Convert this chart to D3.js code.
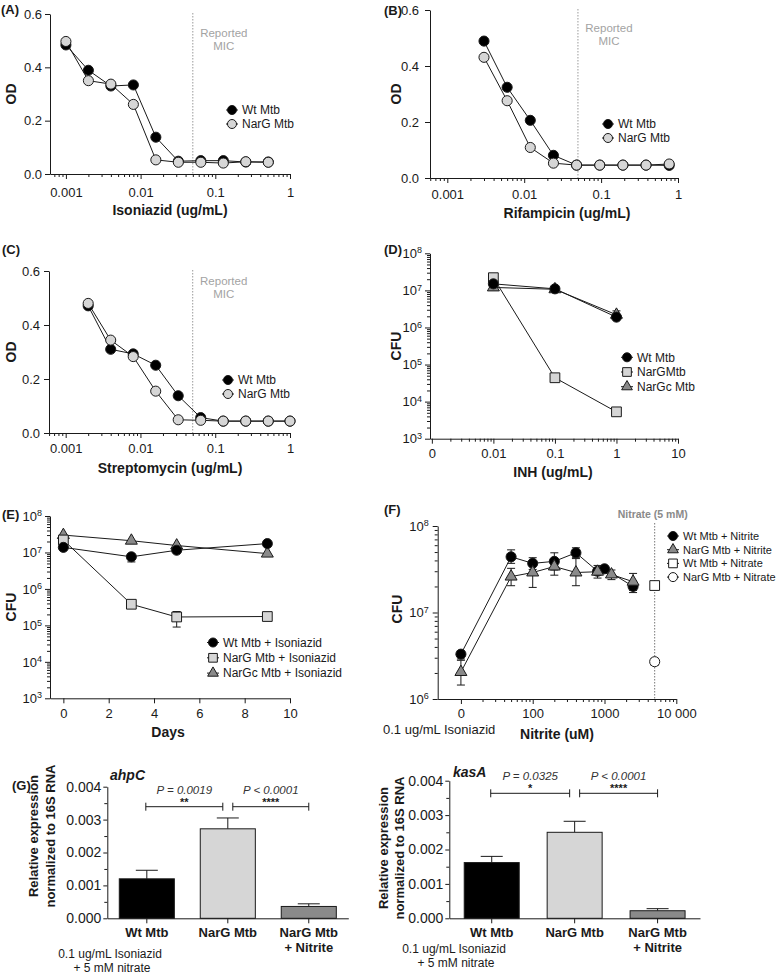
<!DOCTYPE html>
<html><head><meta charset="utf-8">
<script src="https://cdn.jsdelivr.net/npm/d3@7"></script>
<style>body{margin:0;background:#fff}svg{display:block}</style>
</head><body>
<script>
// ================= DATA =================
// (A) Isoniazid
const inhConcA = [0.001,0.002,0.004,0.008,0.016,0.032,0.064,0.128,0.256,0.512];
const odWtA    = [0.484,0.389,0.330,0.334,0.138,0.048,0.050,0.050,0.045,0.045];
const odNargA  = [0.497,0.350,0.337,0.261,0.053,0.044,0.044,0.041,0.046,0.044];
// (B) Rifampicin
const rifConcB = [0.003,0.006,0.012,0.024,0.048,0.096,0.192,0.384,0.768];
const odWtB    = [0.489,0.324,0.206,0.081,0.046,0.046,0.046,0.046,0.045];
const odNargB  = [0.431,0.276,0.109,0.053,0.046,0.046,0.046,0.046,0.050];
// (C) Streptomycin
const strConcC = [0.002,0.004,0.008,0.016,0.032,0.064,0.128,0.256,0.512,1.0];
const odWtC    = [0.471,0.310,0.293,0.251,0.138,0.057,0.044,0.044,0.044,0.044];
const odNargC  = [0.480,0.344,0.283,0.155,0.049,0.047,0.044,0.044,0.044,0.044];
const reportedMIC = 0.05;
const odTicks = [0, 0.2, 0.4, 0.6];
const odTickLabels = ["0.0","0.2","0.4","0.6"];
const micTicks = [0.001, 0.01, 0.1, 1];
const micTickLabels = ["0.001","0.01","0.1","1"];
const odLegend = ["Wt Mtb","NarG Mtb"];

// (D) INH dose, CFU
const inhD       = [0.01, 0.1, 1];
const cfuWtD     = [1.5e7, 1.1e7, 1.9e6];
const cfuNargD   = [2.2e7, 4.4e4, 5.3e3];
const cfuNargDHi = [2.8e7, 4.4e4, 5.3e3];
const cfuNargcD  = [1.2e7, 1.07e7, 2.2e6];
const cfuNargcDHi= [1.2e7, 1.07e7, 2.8e6];
const inhTicksD  = [0.001, 0.01, 0.1, 1, 10];
const inhTickLabelsD = ["0","0.01","0.1","1","10"];
const legendD = ["Wt Mtb","NarGMtb","NarGc Mtb"];

// (E) time course
const daysE      = [0, 3, 5, 9];
const cfuWtE     = [1.38e7, 7.6e6, 1.15e7, 1.75e7];
const cfuWtELo   = [1.38e7, 5.5e6, 1.15e7, 1.75e7];
const cfuWtEHi   = [1.38e7, 9.0e6, 1.15e7, 1.75e7];
const cfuNargE   = [2.2e7, 3.8e5, 1.7e5, 1.75e5];
const cfuNargELo = [2.2e7, 3.8e5, 9.0e4, 1.75e5];
const cfuNargEHi = [2.2e7, 3.8e5, 2.4e5, 1.75e5];
const cfuNargcE  = [3.0e7, 2.1e7, 1.55e7, 9.3e6];
const dayTicksE  = [0, 2, 4, 6, 8, 10];
const legendE = ["Wt Mtb + Isoniazid","NarG Mtb + Isoniazid","NarGc Mtb + Isoniazid"];
const cfuExp = ["3","4","5","6","7","8"];

// (F) nitrite rescue
const nitriteWtF   = [0, 50, 100, 200, 400, 800, 1000, 2500];
const cfuWtF       = [3.3e6, 4.4e7, 3.7e7, 3.9e7, 4.9e7, 3.0e7, 3.2e7, 2.0e7];
const cfuWtFLo     = [2.9e6, 3.7e7, 3.15e7, 3.1e7, 4.3e7, 2.7e7, 3.0e7, 1.7e7];
const cfuWtFHi     = [3.6e6, 5.3e7, 4.3e7, 4.9e7, 5.6e7, 3.3e7, 3.4e7, 2.3e7];
const nitriteNargF = [0, 50, 100, 200, 400, 800, 1250, 2500];
const cfuNargF     = [2.05e6, 2.6e7, 2.9e7, 3.4e7, 2.9e7, 2.96e7, 2.75e7, 2.27e7];
const cfuNargFLo   = [1.45e6, 2.04e7, 1.95e7, 2.7e7, 2.04e7, 2.5e7, 2.4e7, 1.8e7];
const cfuNargFHi   = [2.8e6, 3.24e7, 3.5e7, 4.1e7, 4.2e7, 3.5e7, 3.1e7, 2.83e7];
const nitrateConc  = 5000;            // 5 mM nitrate, uM
const cfuWtNitrate = 2.05e7;
const cfuNargNitrate = 2.7e6, cfuNargNitrateLo = 2.45e6, cfuNargNitrateHi = 2.95e6;
const nitriteTicksF = [10, 100, 1000, 10000];
const nitriteTickLabelsF = ["0","100","1000","10 000"];
const legendF = ["Wt Mtb + Nitrite","NarG Mtb + Nitrite","Wt Mtb + Nitrate","NarG Mtb + Nitrate"];
const cfuExpF = ["6","7","8"];

// (G) qPCR
const groupsG = ["Wt Mtb","NarG Mtb","NarG Mtb|+ Nitrite"];
const ahpCMean = [0.00120, 0.00272, 0.00036];
const ahpCSem  = [0.00026, 0.00033, 0.00008];
const kasAMean = [0.00162, 0.00250, 0.00022];
const kasASem  = [0.00018, 0.00032, 0.00006];
const exprTicks = [0, 0.001, 0.002, 0.003, 0.004];
const exprMinor = [0.0005, 0.0015, 0.0025, 0.0035];
const ahpCStats = [{a:0,b:1,p:"P = 0.0019",s:"**"},{a:1,b:2,p:"P < 0.0001",s:"****"}];
const kasAStats = [{a:0,b:1,p:"P = 0.0325",s:"*"},{a:1,b:2,p:"P < 0.0001",s:"****"}];

// ================= DRAWING =================
const FONT = '"Liberation Sans", Arial, Helvetica, sans-serif';
const INK = "#1a1a1a";
const svg = d3.select("body").append("svg").attr("width",779).attr("height",976)
  .style("font-family", FONT);

function logMinor(lo, hi){
  const out=[];
  for(let d=Math.floor(Math.log10(lo))-1; d<=Math.ceil(Math.log10(hi)); d++)
    for(let m=2;m<=9;m++){const v=m*Math.pow(10,d); if(v>=lo*0.999 && v<=hi*1.001) out.push(v);}
  return out;
}

function addAxis(type, scale, pos, o){
  const mk = type==="bottom"? d3.axisBottom : d3.axisLeft;
  const g = svg.append("g").attr("transform", type==="bottom" ? `translate(0,${pos})` : `translate(${pos},0)`);
  if(o.minor){
    g.append("g").call(mk(scale).tickValues(o.minor).tickSize(o.minorLen||3).tickSizeOuter(0).tickFormat(""))
     .call(s=>{s.select(".domain").remove(); s.selectAll("line").attr("stroke",INK);});
  }
  const ax = mk(scale).tickValues(o.major).tickSize(o.tickLen||5).tickSizeOuter(0)
    .tickPadding(o.pad==null?3:o.pad).tickFormat((d,i)=> o.labels? o.labels[i] : d);
  const gm = g.append("g").call(ax);
  gm.selectAll("line").attr("stroke",INK);
  gm.select(".domain").attr("stroke",INK);
  gm.selectAll("text").attr("font-size",o.fs||13).attr("fill",INK).attr("font-family",FONT);
  if(o.sup){
    gm.selectAll("text").each(function(d,i){
      const t=d3.select(this); t.text("");
      t.append("tspan").text("10");
      t.append("tspan").attr("dy","-0.5em").attr("font-size",9).text(o.sup[i]);
    });
  }
  return g;
}

function txt(x,y,s,o={}){
  const t = svg.append("text").attr("x",x).attr("y",y).text(s)
    .attr("font-size",o.fs||13).attr("fill",o.fill||INK)
    .attr("text-anchor",o.anchor||"start");
  if(o.bold) t.attr("font-weight","bold");
  if(o.italic) t.attr("font-style","italic");
  return t;
}
function vtxt(cx,cy,s,o={}){
  svg.append("text").attr("transform",`translate(${cx},${cy}) rotate(-90)`).attr("dy","0.35em")
    .attr("text-anchor","middle").attr("font-size",o.fs||14).attr("font-weight","bold").attr("fill",INK).text(s);
}

const SYM = {circle:d3.symbolCircle, square:d3.symbolSquare, triangle:d3.symbolTriangle};
const SIZE = {circle:80, square:95, triangle:62};
function marker(x,y,shape,fill,sc=1){
  svg.append("path").attr("d", d3.symbol(SYM[shape], SIZE[shape]*sc)())
    .attr("transform",`translate(${x},${y})`).attr("fill",fill).attr("stroke",INK).attr("stroke-width",1);
}
function series(xs, ys, x, y){
  svg.append("path").datum(xs.map((v,i)=>[x(v),y(ys[i])]))
    .attr("d", d3.line()).attr("fill","none").attr("stroke",INK).attr("stroke-width",1);
}
function errbar(px, y1, y2, w=8){
  const g=svg.append("g").attr("stroke",INK).attr("stroke-width",1);
  g.append("line").attr("x1",px).attr("x2",px).attr("y1",y1).attr("y2",y2);
  g.append("line").attr("x1",px-w/2).attr("x2",px+w/2).attr("y1",y1).attr("y2",y1);
  g.append("line").attr("x1",px-w/2).attr("x2",px+w/2).attr("y1",y2).attr("y2",y2);
}
function legend(items, mx, y0, dy, fs){
  items.forEach((it,i)=>{
    const yy=y0+i*dy;
    svg.append("line").attr("x1",mx-6).attr("x2",mx+6).attr("y1",yy).attr("y2",yy).attr("stroke",INK);
    marker(mx,yy,it.shape,it.fill,0.8);
    txt(mx+10,yy+fs*0.36,it.label,{fs});
  });
}

const BLACK="#000", LIGHT="#d6d6d6", MID="#8a8a8a", WHITE="#fff";

// ---------- OD panels (A, B, C) ----------
function odPanel(o){
  const x = d3.scaleLog().domain(o.xDomain).range(o.xRange);
  const y = d3.scaleLinear().domain([0,0.6]).range(o.yRange);
  const mx = x(reportedMIC);
  svg.append("line").attr("x1",mx).attr("x2",mx).attr("y1",o.yRange[1]-1).attr("y2",o.yRange[0])
    .attr("stroke","#9a9a9a").attr("stroke-dasharray","1.5,1.5");
  txt(mx+31,o.yRange[1]+o.micDy,"Reported",{fs:11.5,fill:"#a3a3a3",anchor:"middle"});
  txt(mx+31,o.yRange[1]+o.micDy+13,"MIC",{fs:11.5,fill:"#a3a3a3",anchor:"middle"});
  addAxis("bottom", x, o.yRange[0], {major:micTicks, labels:micTickLabels, minor:logMinor(o.xDomain[0],o.xDomain[1]), pad:o.xpad});
  addAxis("left", y, o.xRange[0], {major:odTicks, labels:odTickLabels, pad:o.ypad});
  series(o.xs, o.wt, x, y);
  series(o.xs, o.narg, x, y);
  o.xs.forEach((v,i)=>marker(x(v),y(o.wt[i]),"circle",BLACK));
  o.xs.forEach((v,i)=>marker(x(v),y(o.narg[i]),"circle",LIGHT));
  legend([{shape:"circle",fill:BLACK,label:odLegend[0]},{shape:"circle",fill:LIGHT,label:odLegend[1]}], o.legX, o.legY, 14, 12);
  txt(o.titleX, o.titleY, o.title, {fs:14,bold:true,anchor:"middle"});
  vtxt(o.odX, (o.yRange[0]+o.yRange[1])/2, "OD");
  txt(o.tagX, o.tagY, o.tag, {fs:13,bold:true});
}
odPanel({xDomain:[Math.pow(10,-3.213),1], xRange:[50,290], yRange:[174,14], xs:inhConcA, wt:odWtA, narg:odNargA,
  micDy:23, xpad:9, ypad:3, legX:232, legY:110, title:"Isoniazid (ug/mL)", titleX:170, titleY:215, odX:11, tag:"(A)", tagX:1, tagY:14});
odPanel({xDomain:[Math.pow(10,-3.225),1], xRange:[430,678], yRange:[178,10], xs:rifConcB, wt:odWtB, narg:odNargB,
  micDy:22, xpad:7, ypad:6, legX:608, legY:124, title:"Rifampicin (ug/mL)", titleX:567, titleY:218, odX:396, tag:"(B)", tagX:384, tagY:15});
odPanel({xDomain:[Math.pow(10,-3.223),1], xRange:[49,290], yRange:[433,271], xs:strConcC, wt:odWtC, narg:odNargC,
  micDy:14, xpad:6, ypad:4, legX:228, legY:380, title:"Streptomycin (ug/mL)", titleX:170, titleY:473, odX:11, tag:"(C)", tagX:2, tagY:254});

// ---------- (D) ----------
{
  const x = d3.scaleLog().domain([Math.pow(10,-3.03),10]).range([430,678]);
  const y = d3.scaleLog().domain([1e3,1e8]).range([438.7,253.3]);
  addAxis("bottom", x, 438.7, {major:inhTicksD, labels:inhTickLabelsD, minor:logMinor(0.001,10), pad:5});
  addAxis("left", y, 430, {major:[1e3,1e4,1e5,1e6,1e7,1e8], labels:cfuExp, sup:cfuExp, minor:logMinor(1e3,1e8), pad:3});
  series(inhD, cfuNargD, x, y); series(inhD, cfuNargcD, x, y); series(inhD, cfuWtD, x, y);
  inhD.forEach((v,i)=>{ if(cfuNargDHi[i]>cfuNargD[i]) errbar(x(v), y(cfuNargDHi[i]), y(cfuNargD[i])); });
  inhD.forEach((v,i)=>{ if(cfuNargcDHi[i]>cfuNargcD[i]) errbar(x(v), y(cfuNargcDHi[i]), y(cfuNargcD[i])); });
  inhD.forEach((v,i)=>marker(x(v),y(cfuNargD[i]),"square",LIGHT));
  inhD.forEach((v,i)=>marker(x(v),y(cfuNargcD[i]),"triangle",MID));
  inhD.forEach((v,i)=>marker(x(v),y(cfuWtD[i]),"circle",BLACK));
  legend([{shape:"circle",fill:BLACK,label:legendD[0]},{shape:"square",fill:LIGHT,label:legendD[1]},{shape:"triangle",fill:MID,label:legendD[2]}], 627, 357.3, 14.7, 12);
  txt(553, 477, "INH (ug/mL)", {fs:14,bold:true,anchor:"middle"});
  vtxt(396, 346, "CFU");
  txt(384, 254, "(D)", {fs:13,bold:true});
}

// ---------- (E) ----------
{
  const x = d3.scaleLinear().domain([-0.59,10]).range([50,290]);
  const y = d3.scaleLog().domain([1e3,1e8]).range([698.3,516]);
  addAxis("bottom", x, 698.3, {major:dayTicksE, pad:5});
  addAxis("left", y, 50, {major:[1e3,1e4,1e5,1e6,1e7,1e8], labels:cfuExp, sup:cfuExp, minor:logMinor(1e3,1e8), pad:3});
  series(daysE, cfuNargcE, x, y); series(daysE, cfuNargE, x, y); series(daysE, cfuWtE, x, y);
  daysE.forEach((v,i)=>{ if(cfuWtEHi[i]>cfuWtELo[i]) errbar(x(v), y(cfuWtEHi[i]), y(cfuWtELo[i])); });
  daysE.forEach((v,i)=>{ if(cfuNargEHi[i]>cfuNargELo[i]) errbar(x(v), y(cfuNargEHi[i]), y(cfuNargELo[i])); });
  daysE.forEach((v,i)=>marker(x(v),y(cfuNargcE[i]),"triangle",MID));
  daysE.forEach((v,i)=>marker(x(v),y(cfuNargE[i]),"square",LIGHT));
  daysE.forEach((v,i)=>marker(x(v),y(cfuWtE[i]),"circle",BLACK));
  legend([{shape:"circle",fill:BLACK,label:legendE[0]},{shape:"square",fill:LIGHT,label:legendE[1]},{shape:"triangle",fill:MID,label:legendE[2]}], 213, 642.5, 15.3, 12);
  txt(168, 737, "Days", {fs:14,bold:true,anchor:"middle"});
  vtxt(11, 607, "CFU");
  txt(2, 519, "(E)", {fs:13,bold:true});
}

// ---------- (F) ----------
{
  const x = d3.scaleLog().domain([4.75,10000]).range([437.7,676.3]);
  const px = v => x(v===0 ? nitriteTicksF[0] : v);
  const y = d3.scaleLog().domain([1e6,1e8]).range([699,526]);
  const nx = x(nitrateConc);
  svg.append("line").attr("x1",nx).attr("x2",nx).attr("y1",523).attr("y2",699)
    .attr("stroke","#777").attr("stroke-dasharray","1.5,1.5");
  txt(nx-2, 518, "Nitrate (5 mM)", {fs:10.5,bold:true,fill:"#8a8a8a",anchor:"middle"});
  addAxis("bottom", x, 699, {major:nitriteTicksF, labels:nitriteTickLabelsF, minor:logMinor(10,10000), pad:5});
  addAxis("left", y, 437.7, {major:[1e6,1e7,1e8], labels:cfuExpF, sup:cfuExpF, minor:logMinor(1e6,1e8), pad:4});
  const line = (xs,ys)=> svg.append("path").datum(xs.map((v,i)=>[px(v),y(ys[i])])).attr("d",d3.line())
      .attr("fill","none").attr("stroke",INK);
  line(nitriteWtF, cfuWtF); line(nitriteNargF, cfuNargF);
  nitriteWtF.forEach((v,i)=>errbar(px(v), y(cfuWtFHi[i]), y(cfuWtFLo[i])));
  nitriteNargF.forEach((v,i)=>errbar(px(v), y(cfuNargFHi[i]), y(cfuNargFLo[i])));
  errbar(nx, y(cfuNargNitrateHi), y(cfuNargNitrateLo));
  nitriteWtF.forEach((v,i)=>marker(px(v),y(cfuWtF[i]),"circle",BLACK));
  nitriteNargF.forEach((v,i)=>marker(px(v),y(cfuNargF[i]),"triangle",MID));
  marker(nx, y(cfuWtNitrate), "square", WHITE);
  marker(nx, y(cfuNargNitrate), "circle", WHITE);
  legend([{shape:"circle",fill:BLACK,label:legendF[0]},{shape:"triangle",fill:MID,label:legendF[1]},
          {shape:"square",fill:WHITE,label:legendF[2]},{shape:"circle",fill:WHITE,label:legendF[3]}], 673, 536, 13.7, 11);
  txt(557, 739, "Nitrite (uM)", {fs:14,bold:true,anchor:"middle"});
  txt(383, 734, "0.1 ug/mL Isoniazid", {fs:13});
  vtxt(397, 609, "CFU");
  txt(384, 514, "(F)", {fs:13,bold:true});
}

// ---------- (G) ----------
function barPanel(o){
  const x = d3.scaleBand().domain(groupsG).range(o.xRange).paddingInner(o.pi).paddingOuter(o.po);
  const y = d3.scaleLinear().domain([0,0.004]).range(o.yRange);
  const fills=[BLACK,LIGHT,MID];
  groupsG.forEach((gname,i)=>{
    const m=o.mean[i], e=o.sem[i], cx=x(gname)+x.bandwidth()/2;
    svg.append("line").attr("x1",cx).attr("x2",cx).attr("y1",y(m)).attr("y2",y(m+e)).attr("stroke",INK);
    svg.append("line").attr("x1",cx-11).attr("x2",cx+11).attr("y1",y(m+e)).attr("y2",y(m+e)).attr("stroke",INK);
    svg.append("rect").attr("x",x(gname)).attr("y",y(m)).attr("width",x.bandwidth()).attr("height",y(0)-y(m))
      .attr("fill",fills[i]).attr("stroke",INK).attr("stroke-width",1);
  });
  addAxis("bottom", x, o.yRange[0], {major:groupsG, labels:groupsG.map(()=>""), pad:0});
  addAxis("left", y, o.xRange[0], {major:exprTicks, labels:exprTicks.map(d=>d.toFixed(3)), minor:exprMinor, fs:14, tickLen:4, pad:2});
  groupsG.forEach(gname=>{
    const cx=x(gname)+x.bandwidth()/2;
    gname.split("|").forEach((ln,j)=>txt(cx, o.yRange[0]+19+j*15, ln, {fs:13,bold:true,anchor:"middle"}));
  });
  o.stats.forEach(s=>{
    const a=groupsG[s.a], b=groupsG[s.b];
    let x1=x(a)+x.bandwidth()/2, x2=x(b)+x.bandwidth()/2;
    if(s.a>0) x1+=5; else x1-=1;
    x2 -= (s.b<groupsG.length-1)?5:0;
    const yy=o.brY;
    const g=svg.append("g").attr("stroke",INK);
    g.append("line").attr("x1",x1).attr("x2",x2).attr("y1",yy).attr("y2",yy);
    g.append("line").attr("x1",x1).attr("x2",x1).attr("y1",yy-4).attr("y2",yy+4);
    g.append("line").attr("x1",x2).attr("x2",x2).attr("y1",yy-4).attr("y2",yy+4);
    txt((x1+x2)/2, yy-13, s.p, {fs:11.5,italic:true,anchor:"middle",fill:"#333"});
    txt((x1+x2)/2, yy-1, s.s, {fs:11,bold:true,anchor:"middle"});
  });
  txt(o.geneX, o.geneY, o.gene, {fs:14,bold:true,italic:true});
  vtxt(o.ylx1, o.ylcy, "Relative expression", {fs:13});
  vtxt(o.ylx2, o.ylcy, "normalized to 16S RNA", {fs:13});
  txt(o.noteX, o.noteY, "0.1 ug/mL Isoniazid", {fs:12,anchor:"middle"});
  txt(o.noteX+2, o.noteY+14, "+ 5 mM nitrate", {fs:12,anchor:"middle"});
}
barPanel({xRange:[107.3,348.3], yRange:[918.3,786.7], pi:0.32, po:0.148, mean:ahpCMean, sem:ahpCSem, stats:ahpCStats,
  brY:806.7, gene:"ahpC", geneX:110, geneY:780, ylx1:33, ylx2:50, ylcy:836, noteX:110, noteY:958});
barPanel({xRange:[449.3,700], yRange:[918.3,780.7], pi:0.337, po:0.18, mean:kasAMean, sem:kasASem, stats:kasAStats,
  brY:793.3, gene:"kasA", geneX:453, geneY:777, ylx1:383, ylx2:399, ylcy:848, noteX:454, noteY:953});
txt(12, 790, "(G)", {fs:13,bold:true});
</script>
</body></html>
